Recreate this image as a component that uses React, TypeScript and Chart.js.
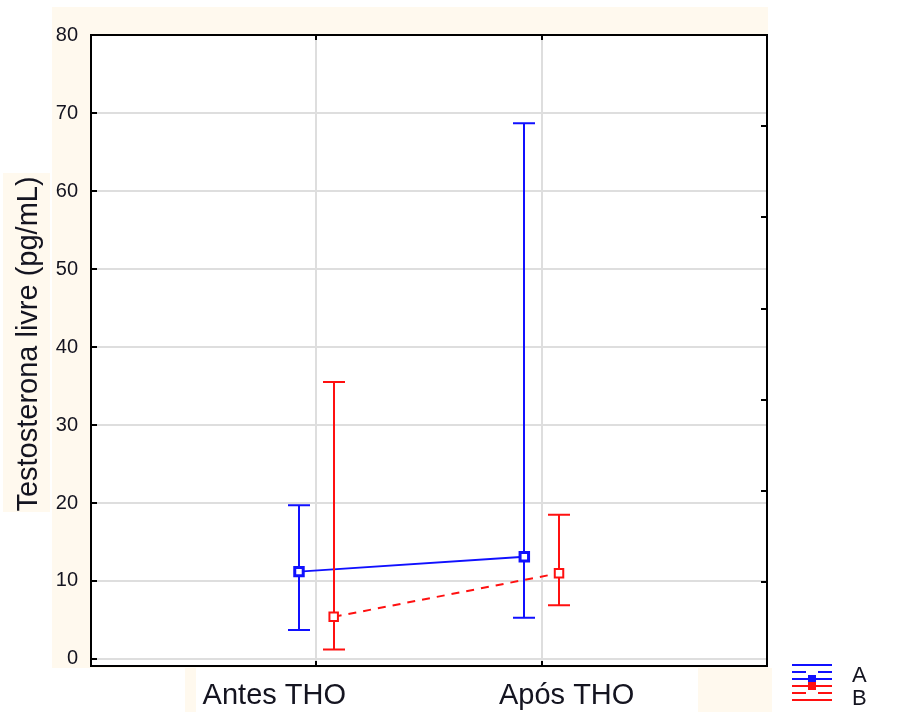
import React, { useEffect, useRef } from 'react';
import { Chart, registerables } from 'chart.js';

Chart.register(...registerables);

// ---- data ----
const categories = ['Antes THO', 'Após THO'];
const seriesNames = ['A', 'B'];
const meanA = [11.2, 13.1];
const lowA = [3.7, 5.3];
const highA = [19.7, 68.7];
const meanB = [5.4, 11.0];
const lowB = [1.2, 6.9];
const highB = [35.5, 18.5];
const yTickValues = [0, 10, 20, 30, 40, 50, 60, 70, 80];
const rightTickValues = [1, 2, 3, 4, 5, 6, 7];
const yTitle = 'Testosterona livre (pg/mL)';

// ---- styles ----
const BLUE = '#1010ff';
const RED = '#ff1010';
const BEIGE = '#fff9ee';
const TEXT = '#141420';
const GRID = '#dedede';
const FONT = "'Liberation Sans', Arial, sans-serif";
const OFFSET = 0.077;
const CAP = 11;
const LABEL_SHIFT = [-42, 25];

const seriesMeans = [meanA, meanB];
const seriesLows = [lowA, lowB];
const seriesHighs = [highA, highB];
const seriesColors = [BLUE, RED];
const seriesOffsets = [-OFFSET, OFFSET];

const customPlugin = {
  id: 'custom',
  beforeDraw(chart: any) {
    const ctx = chart.ctx;
    const { left, top, right, bottom } = chart.chartArea;
    ctx.save();
    ctx.fillStyle = '#ffffff';
    ctx.fillRect(0, 0, chart.width, chart.height);
    ctx.fillStyle = BEIGE;
    ctx.fillRect(52, 7, right + 1 - 52, bottom + 2 - 7);
    ctx.fillRect(3, 173, 47, 339);
    ctx.fillRect(185, bottom + 2, 11, 44);
    ctx.fillRect(698, bottom + 2, 74, 44);
    ctx.fillStyle = '#ffffff';
    ctx.fillRect(left, top, right - left, bottom - top);
    ctx.restore();
  },
  beforeDatasetDraw(chart: any, args: any) {
    const i = args.index;
    const ctx = chart.ctx;
    const xs = chart.scales.x;
    const ys = chart.scales.y;
    ctx.save();
    ctx.strokeStyle = seriesColors[i];
    ctx.lineWidth = 2;
    ctx.setLineDash([]);
    categories.forEach((_, k) => {
      const x = Math.round(xs.getPixelForValue(k + 1 + seriesOffsets[i]));
      const yl = ys.getPixelForValue(seriesLows[i][k]);
      const yh = ys.getPixelForValue(seriesHighs[i][k]);
      ctx.beginPath();
      ctx.moveTo(x, yl);
      ctx.lineTo(x, yh);
      ctx.moveTo(x - CAP, yl);
      ctx.lineTo(x + CAP, yl);
      ctx.moveTo(x - CAP, yh);
      ctx.lineTo(x + CAP, yh);
      ctx.stroke();
    });
    ctx.restore();
  },
  afterDraw(chart: any) {
    const ctx = chart.ctx;
    const { left, top, right, bottom } = chart.chartArea;
    const xs = chart.scales.x;
    const ys = chart.scales.y;
    const y2 = chart.scales.y2;
    ctx.save();
    // frame
    ctx.strokeStyle = '#000';
    ctx.lineWidth = 2;
    ctx.strokeRect(left, top, right - left, bottom - top);
    // inward ticks
    ctx.beginPath();
    yTickValues.forEach((v) => {
      const y = Math.round(ys.getPixelForValue(v));
      ctx.moveTo(left, y);
      ctx.lineTo(left + 6, y);
    });
    rightTickValues.forEach((v) => {
      const y = Math.round(y2.getPixelForValue(v));
      ctx.moveTo(right - 6, y);
      ctx.lineTo(right, y);
    });
    categories.forEach((_, k) => {
      const x = Math.round(xs.getPixelForValue(k + 1));
      ctx.moveTo(x, top);
      ctx.lineTo(x, top + 5);
      ctx.moveTo(x, bottom);
      ctx.lineTo(x, bottom - 5);
    });
    ctx.stroke();

    // category labels
    ctx.fillStyle = TEXT;
    ctx.font = `29px ${FONT}`;
    ctx.textAlign = 'center';
    ctx.textBaseline = 'alphabetic';
    categories.forEach((c, k) => {
      const x = xs.getPixelForValue(k + 1) + LABEL_SHIFT[k];
      ctx.fillText(c, x, bottom + 38);
    });

    // y title
    ctx.save();
    ctx.translate(37, 344);
    ctx.rotate(-Math.PI / 2);
    ctx.font = `29px ${FONT}`;
    ctx.textAlign = 'center';
    ctx.textBaseline = 'alphabetic';
    ctx.fillText(yTitle, 0, 0);
    ctx.restore();

    // legend
    const lx = 792;
    const lw = 40;
    const baseYs = [665, 686];
    seriesNames.forEach((name, i) => {
      const b = baseYs[i];
      ctx.strokeStyle = seriesColors[i];
      ctx.fillStyle = seriesColors[i];
      ctx.lineWidth = 2;
      ctx.setLineDash([]);
      const rows = [b, b + 7, b + 14];
      const markRow = i === 0 ? rows[2] : rows[0];
      const splitRow = rows[1];
      ctx.beginPath();
      rows.forEach((ry) => {
        if (ry === splitRow) {
          ctx.moveTo(lx, ry);
          ctx.lineTo(lx + 14, ry);
          ctx.moveTo(lx + 26, ry);
          ctx.lineTo(lx + lw, ry);
        } else {
          ctx.moveTo(lx, ry);
          ctx.lineTo(lx + lw, ry);
        }
      });
      ctx.stroke();
      ctx.fillRect(lx + lw / 2 - 4, markRow - 4, 8, 8);
      ctx.fillStyle = TEXT;
      ctx.font = `22px ${FONT}`;
      ctx.textAlign = 'left';
      ctx.textBaseline = 'alphabetic';
      ctx.fillText(name, 852, i === 0 ? 682 : 705);
    });
    ctx.restore();
  },
};

export default function App() {
  const ref = useRef<HTMLCanvasElement | null>(null);

  useEffect(() => {
    if (!ref.current) return;
    const datasets = seriesNames.map((name, i) => ({
      label: name,
      data: categories.map((_, k) => ({ x: k + 1 + seriesOffsets[i], y: seriesMeans[i][k] })),
      showLine: true,
      borderColor: seriesColors[i],
      borderWidth: 2,
      borderDash: i === 1 ? [8, 7] : [],
      pointStyle: 'rect',
      pointRadius: 6,
      pointBorderWidth: i === 0 ? 3 : 2,
      pointBorderColor: seriesColors[i],
      pointBackgroundColor: '#ffffff',
      order: i === 0 ? 1 : 0,
      xAxisID: 'x',
      yAxisID: 'y',
    }));

    const chart = new Chart(ref.current, {
      type: 'scatter',
      data: { datasets },
      plugins: [customPlugin],
      options: {
        responsive: false,
        devicePixelRatio: 1,
        animation: false,
        layout: { padding: { top: 35, left: 0, right: 0, bottom: 0 } },
        plugins: { legend: { display: false }, tooltip: { enabled: false } },
        scales: {
          x: {
            type: 'linear',
            min: 0,
            max: 3,
            afterBuildTicks: (scale: any) => {
              scale.ticks = categories.map((_, k) => ({ value: k + 1 }));
            },
            afterFit: (scale: any) => {
              scale.height = 51;
            },
            ticks: { display: false },
            grid: { color: GRID, lineWidth: 2, drawTicks: false },
            border: { display: false },
          },
          y: {
            type: 'linear',
            position: 'left',
            min: -0.9,
            max: 80,
            afterBuildTicks: (scale: any) => {
              scale.ticks = yTickValues.map((v) => ({ value: v }));
            },
            afterFit: (scale: any) => {
              scale.width = 91;
            },
            ticks: {
              font: { family: FONT, size: 20 },
              color: TEXT,
              padding: 13,
            },
            grid: { color: GRID, lineWidth: 2, drawTicks: false },
            border: { display: false },
          },
          y2: {
            type: 'linear',
            position: 'right',
            min: 0.08,
            max: 7,
            afterBuildTicks: (scale: any) => {
              scale.ticks = rightTickValues.map((v) => ({ value: v }));
            },
            afterFit: (scale: any) => {
              scale.width = 134;
            },
            ticks: { display: false },
            grid: { display: false, drawTicks: false },
            border: { display: false },
          },
        },
      },
    } as any);
    return () => chart.destroy();
  }, []);

  return (
    <div style={{ position: 'absolute', left: 0, top: 0, width: 901, height: 717 }}>
      <canvas ref={ref} width={901} height={717} style={{ display: 'block' }} />
    </div>
  );
}
